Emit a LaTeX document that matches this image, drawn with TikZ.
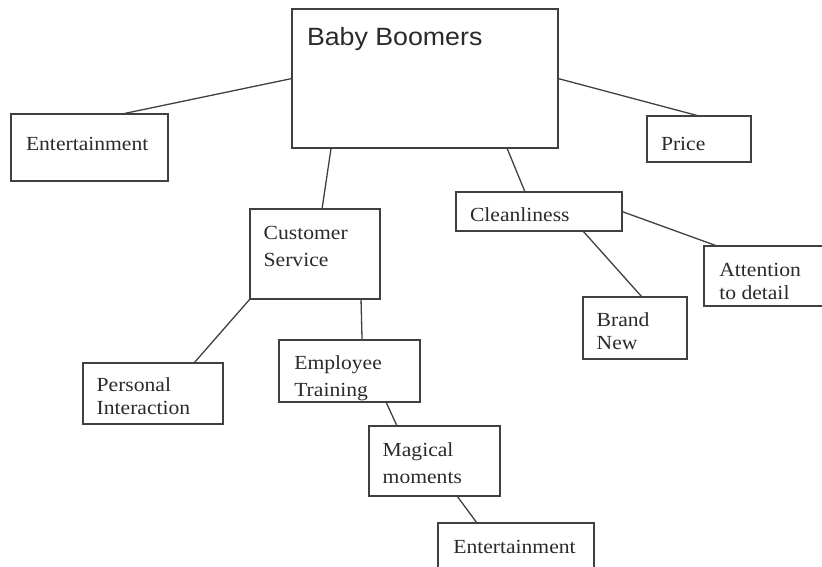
\documentclass[tikz,border=0pt]{standalone}
\usepackage{fontspec}
\usepackage{graphicx}
\setmainfont{Liberation Serif}
\newfontfamily\arialfont{Liberation Sans}
\usetikzlibrary{calc,fit}
\definecolor{linegray}{HTML}{404040}
\definecolor{textgray}{HTML}{2A2A2A}
\newcommand{\sx}[1]{\scalebox{1.08}[1]{#1}}
\tikzset{
  box/.style={draw=linegray, line width=1.3pt, inner sep=0pt, outer sep=0pt, rectangle},
  link/.style={draw=linegray, line width=1.3pt},
  lbl/.style={anchor=base west, inner sep=0pt, outer sep=0pt, text=textgray, align=left},
  tms/.style={lbl, font=\fontsize{20}{27.2}\selectfont},
  tmsb/.style={lbl, font=\fontsize{20}{22.4}\selectfont}
}
\begin{document}
\begin{tikzpicture}[x=1pt,y=-1pt]
\useasboundingbox (0,0) rectangle (822,567);
% boxes
\node[box, fit={(292,9) (558,148)}] (bb) {};
\node[box, fit={(11,114) (168,181)}] (ent1) {};
\node[box, fit={(647,116) (751,162)}] (price) {};
\node[box, fit={(250,209) (380,299)}] (cs) {};
\node[box, fit={(456,192) (622,231)}] (clean) {};
\node[box, fit={(83,363) (223,424)}] (pi) {};
\node[box, fit={(279,340) (420,402)}] (et) {};
\node[box, fit={(369,426) (500,496)}] (mag) {};
\node[box, fit={(438,523) (594,590)}] (ent2) {};
\node[box, fit={(704,246) (835,306)}] (att) {};
\node[box, fit={(583,297) (687,359)}] (bn) {};
% texts (anchor = baseline of the last line)
\node[lbl, font=\arialfont\fontsize{25}{30}\selectfont] (tbb) at (307,46) {\scalebox{1.07}[1]{Baby Boomers}};
\node[tms] (tent1) at (26,150) {\sx{Entertainment}};
\node[tms] (tprice) at (661,150) {\sx{Price}};
\node[tms] (tcs) at (263.7,266.7) {\sx{Customer}\\\sx{Service}};
\node[tms] (tclean) at (470,221.7) {\sx{Cleanliness}};
\node[tmsb] (tpi) at (96.7,414) {\sx{Personal}\\\sx{Interaction}};
\node[tms] (tet) at (294.3,396.7) {\sx{Employee}\\\sx{Training}};
\node[tms] (tmag) at (382.7,483.3) {\sx{Magical}\\\sx{moments}};
\node[tms] (tent2) at (453.3,553.3) {\sx{Entertainment}};
\node[tmsb] (tatt) at (719.3,299.3) {\sx{Attention}\\\sx{to detail}};
\node[tmsb] (tbn) at (596.7,349) {\sx{Brand}\\\sx{New}};
% connectors
\draw[link] (bb.west) -- ($(ent1.north west)!0.707!(ent1.north east)$);
\draw[link] (bb.east) -- (price.north);
\draw[link] ($(bb.south west)!0.147!(bb.south east)$) -- ($(cs.north west)!0.554!(cs.north east)$);
\draw[link] ($(bb.south west)!0.808!(bb.south east)$) -- ($(clean.north west)!0.416!(clean.north east)$);
\draw[link] (cs.south west) -- ($(pi.north west)!0.793!(pi.north east)$);
\draw[link] ($(cs.south west)!0.854!(cs.south east)$) -- ($(et.north west)!0.589!(et.north east)$);
\draw[link] ($(et.south west)!0.759!(et.south east)$) -- ($(mag.north west)!0.214!(mag.north east)$);
\draw[link] ($(mag.south west)!0.672!(mag.south east)$) -- ($(ent2.north west)!0.25!(ent2.north east)$);
\draw[link] (clean.east) -- ([xshift=13pt]att.north west);
\draw[link] ($(clean.south west)!0.765!(clean.south east)$) -- ($(bn.north west)!0.567!(bn.north east)$);
\end{tikzpicture}
\end{document}
